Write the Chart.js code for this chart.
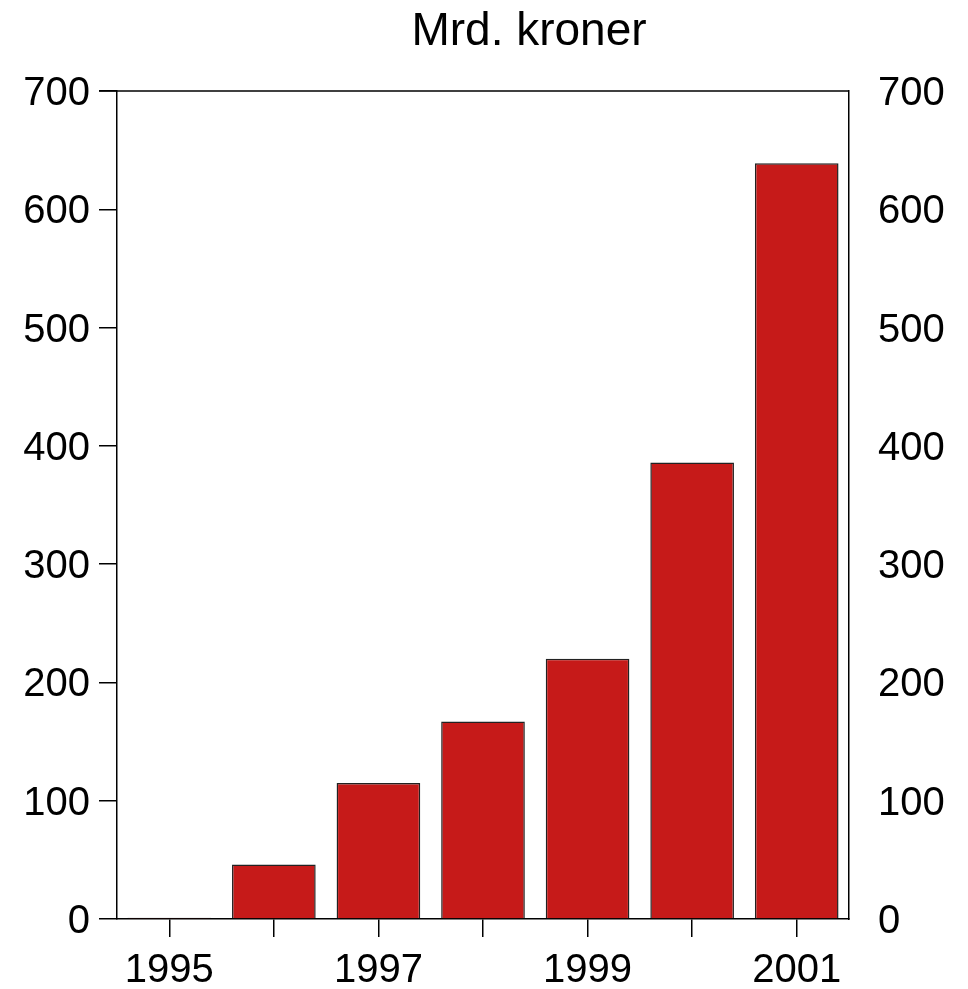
<!DOCTYPE html>
<html>
<head>
<meta charset="utf-8">
<script src="https://cdn.jsdelivr.net/npm/chart.js@4/dist/chart.umd.min.js"></script>
<style>
  html, body { margin: 0; padding: 0; background: #fff; }
  #wrap { width: 968px; height: 989px; position: relative; }
</style>
</head>
<body>
<div id="wrap"><canvas id="chart" width="968" height="989"></canvas></div>
<script>
const years = ['1995', '1996', '1997', '1998', '1999', '2000', '2001'];
const values = [1, 46, 115, 167, 220, 386, 639];
const yTicks = [0, 100, 200, 300, 400, 500, 600, 700];
const title = 'Mrd. kroner';

const FONT = "'Liberation Sans', Arial, sans-serif";

// top edge of the frame plus the title above it
const framePlugin = {
  id: 'frame',
  afterDraw(chart) {
    const ctx = chart.ctx;
    const a = chart.chartArea;
    ctx.save();
    ctx.strokeStyle = '#000';
    ctx.lineWidth = 1.5;
    ctx.beginPath();
    ctx.moveTo(a.left - 18, a.top);
    ctx.lineTo(a.right, a.top);
    ctx.stroke();
    ctx.fillStyle = '#000';
    ctx.font = '46px ' + FONT;
    ctx.textAlign = 'center';
    ctx.textBaseline = 'alphabetic';
    ctx.fillText(title, 529, 45);
    ctx.restore();
  }
};

new Chart(document.getElementById('chart'), {
  type: 'bar',
  data: {
    labels: years,
    datasets: [{
      data: values,
      backgroundColor: '#c61a19',
      borderColor: '#222',
      borderWidth: 1.5,
      categoryPercentage: 0.8,
      barPercentage: 1.0,
      yAxisID: 'y'
    }]
  },
  plugins: [framePlugin],
  options: {
    responsive: false,
    animation: false,
    layout: { padding: { top: 91, left: 0, right: 0, bottom: 0 } },
    plugins: {
      legend: { display: false },
      tooltip: { enabled: false }
    },
    scales: {
      x: {
        grid: { display: true, offset: false, drawOnChartArea: false, drawTicks: true, tickLength: 18, color: '#000', lineWidth: 1.5 },
        border: { display: true, color: '#000', width: 1.5 },
        ticks: {
          color: '#000',
          font: { family: FONT, size: 40 },
          padding: 10,
          maxRotation: 0,
          autoSkip: false,
          callback: (v, i) => (i % 2 === 0 ? years[i] : '')
        },
        afterFit: s => { s.height = 70; }
      },
      y: {
        position: 'left',
        min: 0,
        max: 700,
        afterBuildTicks: s => { s.ticks = yTicks.map(v => ({ value: v })); },
        grid: { display: true, drawOnChartArea: false, drawTicks: true, tickLength: 18, color: '#000', lineWidth: 1.5 },
        border: { display: true, color: '#000', width: 1.5 },
        ticks: { color: '#000', font: { family: FONT, size: 40 }, padding: 9, labelOffset: 3 },
        afterFit: s => { s.width = 117; }
      },
      y2: {
        position: 'right',
        min: 0,
        max: 700,
        afterBuildTicks: s => { s.ticks = yTicks.map(v => ({ value: v })); },
        grid: { display: false, drawOnChartArea: false, drawTicks: false },
        border: { display: true, color: '#000', width: 1.5 },
        ticks: { color: '#000', font: { family: FONT, size: 40 }, padding: 29, labelOffset: 3 },
        afterFit: s => { s.width = 119; }
      }
    }
  }
});
</script>
</body>
</html>
